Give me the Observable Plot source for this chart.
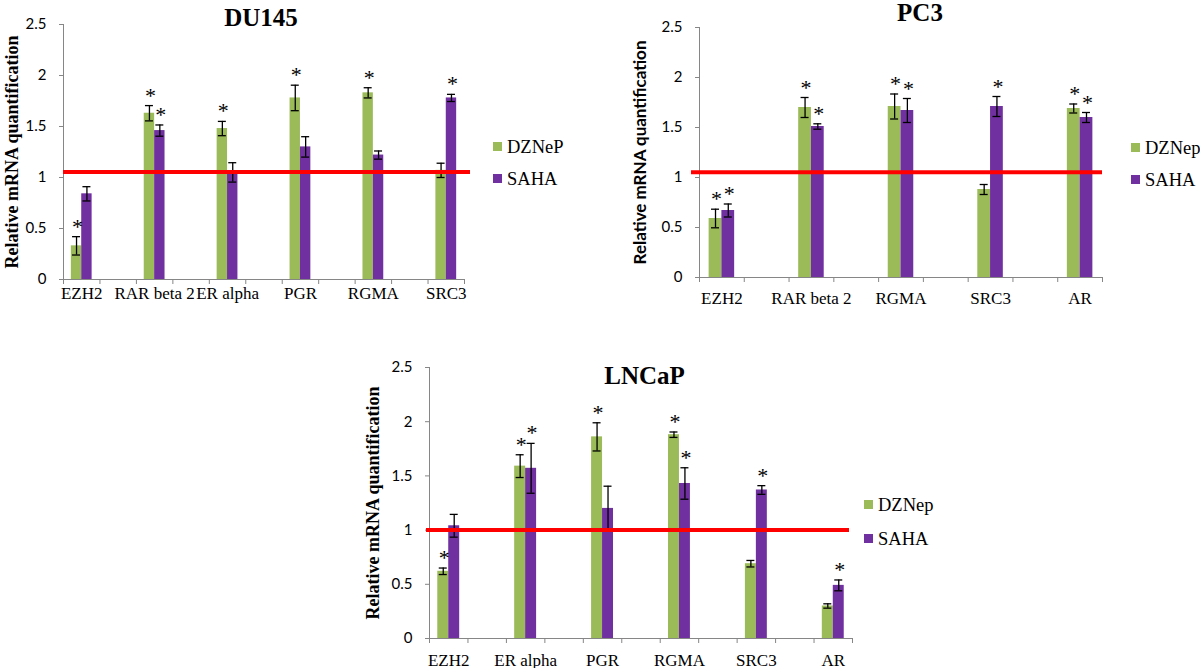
<!DOCTYPE html>
<html><head><meta charset="utf-8">
<script src="https://cdn.jsdelivr.net/npm/d3@7"></script>
<script src="https://cdn.jsdelivr.net/npm/@observablehq/plot@0.6"></script>
<style>
body{margin:0;background:#fff;}
#root{position:relative;width:1200px;height:668px;overflow:hidden;background:#fff;}
.panel{position:absolute;}
.leg{position:absolute;font-family:"Liberation Serif","Times New Roman",serif;font-size:18.5px;line-height:18px;white-space:nowrap;color:#000;}
.sw{position:absolute;width:9px;height:9px;}
</style></head><body><div id="root"></div>
<script>
// ---------- data ----------
const yTicks = [0, 0.5, 1, 1.5, 2, 2.5];
const yLabel = "Relative mRNA quantification";
const seriesColors = ["#9BBB59", "#7030A0"];

// DU145
const du145Genes = ["EZH2", "RAR beta 2", "ER alpha", "PGR", "RGMA", "SRC3"];
const du145DZNeP = [0.33, 1.63, 1.48, 1.78, 1.83, 1.07];
const du145DZNePErr = [0.09, 0.075, 0.07, 0.125, 0.05, 0.07];
const du145DZNePStar = [1, 1, 1, 1, 1, 0];
const du145SAHA = [0.84, 1.46, 1.05, 1.30, 1.22, 1.78];
const du145SAHAErr = [0.07, 0.055, 0.095, 0.10, 0.04, 0.035];
const du145SAHAStar = [0, 1, 0, 0, 0, 1];
const du145Ref = 1.055;
const du145Legend = ["DZNeP", "SAHA"];

// PC3
const pc3Genes = ["EZH2", "RAR beta 2", "RGMA", "SRC3", "AR"];
const pc3DZNep = [0.59, 1.70, 1.71, 0.88, 1.69];
const pc3DZNepErr = [0.093, 0.10, 0.125, 0.05, 0.045];
const pc3DZNepStar = [1, 1, 1, 0, 1];
const pc3SAHA = [0.67, 1.51, 1.67, 1.71, 1.60];
const pc3SAHAErr = [0.065, 0.027, 0.12, 0.10, 0.05];
const pc3SAHAStar = [1, 1, 1, 1, 1];
const pc3Ref = 1.053;
const pc3Legend = ["DZNep", "SAHA"];

// LNCaP
const lncapGenes = ["EZH2", "ER alpha", "PGR", "RGMA", "SRC3", "AR"];
const lncapDZNep = [0.62, 1.59, 1.86, 1.88, 0.69, 0.30];
const lncapDZNepErr = [0.03, 0.105, 0.13, 0.025, 0.03, 0.02];
const lncapDZNepStar = [1, 1, 1, 1, 0, 0];
const lncapSAHA = [1.04, 1.57, 1.20, 1.43, 1.37, 0.49];
const lncapSAHAErr = [0.105, 0.23, 0.205, 0.145, 0.04, 0.05];
const lncapSAHAStar = [0, 1, 0, 1, 1, 1];
const lncapRef = 1.0;
const lncapLegend = ["DZNep", "SAHA"];

// ---------- drawing ----------
const SERIF = "'Liberation Serif','Times New Roman',serif";
const SANS = "Lato,'Open Sans',sans-serif";
const root = document.getElementById("root");

function panel(cfg) {
  const nSlots = cfg.genes.length * 2 - 1;
  const slotPx = (cfg.width - cfg.ml - cfg.mr) / nSlots;
  const BW = 0.285;             // bar width in slot units
  const cap = 4 / slotPx;       // half cap width in slot units
  const rows = [];
  cfg.genes.forEach((g, i) => {
    const c = 2 * i + 0.5;
    rows.push({s: 0, x1: c - BW, x2: c, xc: c - BW / 2, v: cfg.a[i], e: cfg.aErr[i], star: cfg.aStar[i]});
    rows.push({s: 1, x1: c, x2: c + BW, xc: c + BW / 2, v: cfg.b[i], e: cfg.bErr[i], star: cfg.bStar[i]});
  });
  const geneRows = cfg.genes.map((g, i) => ({g, c: 2 * i + 0.5}));
  const svg = Plot.plot({
    width: cfg.width, height: cfg.height,
    marginLeft: cfg.ml, marginRight: cfg.mr, marginTop: cfg.mt, marginBottom: cfg.mb,
    x: {domain: [0, nSlots], label: null},
    y: {domain: [0, 2.5], label: null},
    style: {background: "transparent", overflow: "visible"},
    marks: [
      Plot.rectY(rows, {x1: "x1", x2: "x2", y1: 0, y2: "v", fill: d => seriesColors[d.s]}),
      Plot.ruleX(rows, {x: "xc", y1: d => d.v - d.e, y2: d => d.v + d.e, stroke: "#000", strokeWidth: 1.3}),
      Plot.ruleY(rows, {y: d => d.v + d.e, x1: d => d.xc - cap, x2: d => d.xc + cap, stroke: "#000", strokeWidth: 1.3}),
      Plot.ruleY(rows, {y: d => d.v - d.e, x1: d => d.xc - cap, x2: d => d.xc + cap, stroke: "#000", strokeWidth: 1.3}),
      Plot.text(rows.filter(d => d.star), {x: "xc", y: d => d.v + d.e, text: () => "*", lineAnchor: "bottom", dx: 1, dy: -3, fontSize: 22, fontFamily: SERIF, fill: "#000"}),
      // axes
      Plot.ruleX([0], {stroke: "#868686", strokeWidth: 1}),
      Plot.ruleY([0], {stroke: "#868686", strokeWidth: 1}),
      Plot.axisX({ticks: d3.range(nSlots + 1), tickSize: 5, tickFormat: () => "", stroke: "#868686", label: null}),
      Plot.axisY({ticks: yTicks, tickSize: 4, tickFormat: () => "", stroke: "#868686", label: null}),
      Plot.text(yTicks, {y: d => d, text: d => String(d), frameAnchor: "left", textAnchor: "end", dx: -17, fontSize: 15, fontFamily: SANS, fill: "#000"}),
      Plot.text(geneRows, {x: "c", text: "g", frameAnchor: "bottom", lineAnchor: "bottom", dy: cfg.xlabDy, fontSize: 17, fontFamily: SERIF, fill: "#000"}),
      // y label
      Plot.text([yLabel], {frameAnchor: "left", textAnchor: "middle", rotate: -90, dx: cfg.ylabDx, fontSize: cfg.ylabSize, fontWeight: "bold", fontFamily: cfg.ylabFont, fill: "#000"}),
      // title
      Plot.text([cfg.title], {frameAnchor: "top", lineAnchor: "bottom", dx: cfg.titleDx, dy: cfg.titleDy, fontSize: 25, fontWeight: "bold", fontFamily: SERIF, fill: "#000"}),
      // reference line
      Plot.ruleY([cfg.ref], {stroke: "#FF0000", strokeWidth: 4, insetLeft: cfg.refInL, insetRight: cfg.refInR})
    ]
  });
  const wrap = document.createElement("div");
  wrap.className = "panel";
  wrap.style.left = cfg.left + "px";
  wrap.style.top = cfg.top + "px";
  wrap.appendChild(svg);
  root.appendChild(wrap);
  // legend
  cfg.legend.forEach((name, i) => {
    const sw = document.createElement("div");
    sw.className = "sw";
    sw.style.left = cfg.legX + "px";
    sw.style.top = (cfg.legY[i]) + "px";
    sw.style.background = seriesColors[i];
    root.appendChild(sw);
    const t = document.createElement("div");
    t.className = "leg";
    t.textContent = name;
    t.style.left = (cfg.legX + 14) + "px";
    t.style.top = (cfg.legY[i] - 4) + "px";
    root.appendChild(t);
  });
}

panel({genes: du145Genes, a: du145DZNeP, aErr: du145DZNePErr, aStar: du145DZNePStar,
  b: du145SAHA, bErr: du145SAHAErr, bStar: du145SAHAStar, ref: du145Ref, title: "DU145", legend: du145Legend,
  left: 0, top: 0, width: 600, height: 330, ml: 63, mr: 136, mt: 24, mb: 51,
  titleDx: -3, titleDy: 1, ylabDx: -51, ylabSize: 18, ylabFont: SERIF, xlabDy: 19, refInL: 0, refInR: -6,
  legX: 493, legY: [142, 174]});

panel({genes: pc3Genes, a: pc3DZNep, aErr: pc3DZNepErr, aStar: pc3DZNepStar,
  b: pc3SAHA, bErr: pc3SAHAErr, bStar: pc3SAHAStar, ref: pc3Ref, title: "PC3", legend: pc3Legend,
  left: 600, top: 0, width: 600, height: 330, ml: 99, mr: 98, mt: 27, mb: 53,
  titleDx: 19, titleDy: -7, ylabDx: -59, ylabSize: 17, ylabFont: SANS, xlabDy: 26, refInL: -8, refInR: 0,
  legX: 1131, legY: [143, 175]});

panel({genes: lncapGenes, a: lncapDZNep, aErr: lncapDZNepErr, aStar: lncapDZNepStar,
  b: lncapSAHA, bErr: lncapSAHAErr, bStar: lncapSAHAStar, ref: lncapRef, title: "LNCaP", legend: lncapLegend,
  left: 320, top: 330, width: 600, height: 338, ml: 109, mr: 68, mt: 37, mb: 30,
  titleDx: 3.5, titleDy: 16, ylabDx: -56, ylabSize: 18, ylabFont: SERIF, xlabDy: 27, refInL: -3, refInR: 3,
  legX: 864, legY: [500, 534]});
</script>
</body></html>
